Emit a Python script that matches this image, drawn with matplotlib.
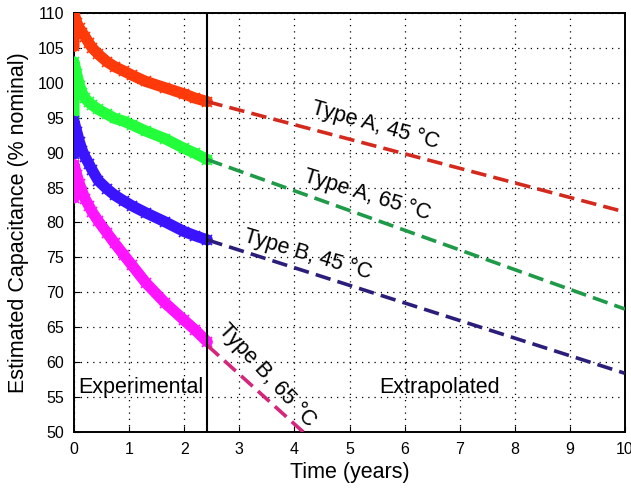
import matplotlib
matplotlib.use('Agg')
import matplotlib.pyplot as plt
import numpy as np

plt.rcParams['font.family'] = ['Liberation Sans', 'DejaVu Sans']

t_meas = [0, 0, 0.05, 0.1, 0.15, 0.2, 0.27, 0.33, 0.44, 0.6, 0.74, 0.9, 1.05, 1.3, 1.65, 2.0, 2.2, 2.42]
a45_meas = [105.2, 110, 108.6, 107.8, 107.2, 106.6, 105.7, 105.0, 104.1, 103.0, 102.3, 101.7, 101.1, 100.2, 99.3, 98.4, 97.8, 97.3]
a65_meas = [95.0, 103, 101.2, 99.6, 98.5, 97.8, 97.2, 96.8, 96.2, 95.5, 94.9, 94.5, 94.0, 93.1, 92.0, 90.6, 89.9, 89.0]
b45_meas = [89.8, 94.5, 93.0, 91.5, 90.3, 89.4, 88.4, 87.5, 86.0, 84.8, 83.9, 83.1, 82.4, 81.4, 80.1, 78.7, 78.1, 77.5]
b65_meas = [83.5, 88.3, 86.8, 85.5, 84.4, 83.4, 82.4, 81.5, 80.2, 78.5, 77.0, 75.4, 73.9, 71.4, 68.5, 66.0, 64.6, 62.9]

# Extrapolated end points (start of extrapolation, end)
t_split = 2.42
a45_ext = ([2.42, 10], [97.3, 81.5])
a65_ext = ([2.42, 10], [89.0, 67.6])
b45_ext = ([2.42, 10], [77.5, 58.4])
b65_ext = ([2.42, 4.16], [62.4, 50.0])

labels = ['Type A, 45 °C', 'Type A, 65 °C', 'Type B, 45 °C', 'Type B, 65 °C']
label_pos = [(5.46, 93.9), (5.32, 83.9), (4.23, 75.4), (3.5, 58.1)]
label_rot = [-15.5, -17, -16.5, -47]

meas_colors = ['#ff3a0a', '#22ff3a', '#3a14ff', '#ff14ff']
ext_colors = ['#d42a1e', '#1e9a48', '#2a1e7a', '#d4267a']

fig = plt.figure(figsize=(6.31, 4.95), dpi=100)
ax = fig.add_axes([0.1173, 0.1273, 0.8732, 0.8465])

series = [a45_meas, a65_meas, b45_meas, b65_meas]
exts = [a45_ext, a65_ext, b45_ext, b65_ext]
for vals, ext, mc, ec in zip(series, exts, meas_colors, ext_colors):
    ax.plot(t_meas, vals, '-', color=mc, lw=8, solid_capstyle='round',
            solid_joinstyle='round', zorder=3)
    ax.plot(t_meas, vals, 'x', color=mc, ms=7, mew=1.2, zorder=3)
    ax.plot(ext[0], ext[1], color=ec, lw=2.6, dashes=(4.3, 2.0), zorder=3)

for txt, (x, y), r in zip(labels, label_pos, label_rot):
    ax.text(x, y, txt, rotation=r, fontsize=15.5, ha='center', va='center',
            rotation_mode='anchor', zorder=4)

ax.axvline(t_split, color='black', lw=1.5, zorder=4)
ax.text(0.07, 56.4, 'Experimental', fontsize=15.5, ha='left', va='center')
ax.text(6.64, 56.4, 'Extrapolated', fontsize=15.5, ha='center', va='center')

ax.set_xlim(0, 10)
ax.set_ylim(50, 110)
ax.set_xticks(np.arange(0, 11, 1))
ax.set_yticks(np.arange(50, 111, 5))
ax.tick_params(direction='in', length=4, labelsize=11.5, pad=7)
ax.grid(True, color='black', lw=0.9, linestyle=(0, (1, 4)))
ax.set_axisbelow(True)
for s in ax.spines.values():
    s.set_linewidth(1.4)

ax.set_xlabel('Time (years)', fontsize=15.5, labelpad=4)
ax.set_ylabel('Estimated Capacitance (% nominal)', fontsize=15.5, labelpad=6)

fig.savefig('out.png', dpi=100)
